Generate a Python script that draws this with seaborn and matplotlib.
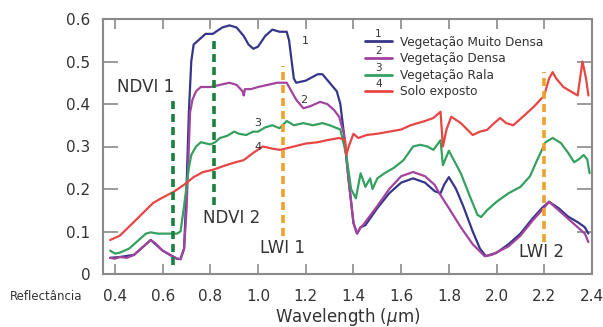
import numpy as np
import pandas as pd
import matplotlib
matplotlib.use("Agg")
import matplotlib.pyplot as plt
import matplotlib.transforms as mtransforms
from matplotlib.lines import Line2D
import seaborn as sns

# ---------------- data ----------------
wl_muito_densa = [0.38, 0.42, 0.48, 0.55, 0.60, 0.66, 0.675, 0.69, 0.70, 0.71, 0.72, 0.73, 0.75, 0.78,
                  0.81, 0.85, 0.88, 0.91, 0.94, 0.96, 0.98, 1.00, 1.03, 1.06, 1.09, 1.12, 1.13, 1.15,
                  1.16, 1.20, 1.25, 1.27, 1.30, 1.33, 1.345, 1.36, 1.38, 1.40, 1.415, 1.43, 1.45, 1.50,
                  1.55, 1.60, 1.65, 1.70, 1.74, 1.765, 1.78, 1.80, 1.83, 1.86, 1.90, 1.93, 1.955, 2.00,
                  2.05, 2.10, 2.15, 2.19, 2.22, 2.26, 2.30, 2.34, 2.37, 2.385]
rf_muito_densa = [0.038, 0.040, 0.045, 0.080, 0.055, 0.036, 0.035, 0.06, 0.20, 0.38, 0.50, 0.54, 0.55, 0.565,
                  0.565, 0.58, 0.585, 0.58, 0.56, 0.54, 0.53, 0.535, 0.56, 0.575, 0.57, 0.57, 0.55, 0.46,
                  0.45, 0.455, 0.47, 0.47, 0.45, 0.43, 0.40, 0.33, 0.22, 0.12, 0.095, 0.11, 0.115, 0.155,
                  0.19, 0.215, 0.225, 0.215, 0.195, 0.19, 0.21, 0.228, 0.20, 0.16, 0.10, 0.06, 0.042, 0.05,
                  0.07, 0.095, 0.13, 0.155, 0.17, 0.155, 0.135, 0.122, 0.11, 0.095]

wl_densa = [0.38, 0.40, 0.42, 0.45, 0.48, 0.52, 0.55, 0.57, 0.60, 0.63, 0.66, 0.675, 0.69, 0.70, 0.71,
            0.715, 0.725, 0.74, 0.76, 0.80, 0.84, 0.88, 0.91, 0.935, 0.94, 0.945, 0.97, 1.00, 1.04,
            1.08, 1.12, 1.14, 1.16, 1.19, 1.22, 1.26, 1.29, 1.32, 1.34, 1.36, 1.38, 1.40, 1.415, 1.43,
            1.44, 1.46, 1.50, 1.55, 1.60, 1.65, 1.70, 1.74, 1.76, 1.80, 1.85, 1.90, 1.95, 1.98, 2.05,
            2.10, 2.15, 2.19, 2.22, 2.26, 2.30, 2.34, 2.37, 2.385]
rf_densa = [0.038, 0.036, 0.040, 0.038, 0.045, 0.065, 0.080, 0.072, 0.055, 0.045, 0.036, 0.035, 0.06, 0.15, 0.30,
            0.38, 0.41, 0.43, 0.44, 0.44, 0.445, 0.45, 0.445, 0.43, 0.42, 0.435, 0.435, 0.44, 0.445,
            0.45, 0.45, 0.43, 0.41, 0.39, 0.395, 0.405, 0.40, 0.385, 0.37, 0.33, 0.22, 0.12, 0.095, 0.11,
            0.115, 0.13, 0.16, 0.20, 0.23, 0.24, 0.23, 0.21, 0.19, 0.155, 0.11, 0.07, 0.042, 0.045, 0.065,
            0.09, 0.125, 0.15, 0.17, 0.15, 0.13, 0.11, 0.095, 0.075]

wl_rala = [0.38, 0.40, 0.42, 0.46, 0.50, 0.53, 0.55, 0.58, 0.62, 0.66, 0.675, 0.69, 0.71, 0.72, 0.74,
           0.76, 0.80, 0.82, 0.84, 0.87, 0.90, 0.92, 0.95, 0.98, 1.00, 1.03, 1.06, 1.09, 1.12, 1.15,
           1.19, 1.23, 1.27, 1.30, 1.345, 1.37, 1.39, 1.41, 1.43, 1.45, 1.47, 1.48, 1.50, 1.53, 1.57,
           1.61, 1.65, 1.68, 1.71, 1.735, 1.765, 1.775, 1.80, 1.85, 1.89, 1.92, 1.935, 1.96, 2.00, 2.05,
           2.10, 2.14, 2.17, 2.205, 2.235, 2.27, 2.30, 2.325, 2.345, 2.365, 2.38, 2.39]
rf_rala = [0.055, 0.048, 0.050, 0.060, 0.080, 0.095, 0.098, 0.095, 0.095, 0.095, 0.10, 0.16, 0.25, 0.28, 0.30,
           0.31, 0.305, 0.31, 0.32, 0.325, 0.335, 0.33, 0.327, 0.335, 0.335, 0.345, 0.35, 0.343, 0.36, 0.35,
           0.355, 0.35, 0.355, 0.35, 0.34, 0.28, 0.20, 0.178, 0.237, 0.205, 0.225, 0.20, 0.225, 0.237, 0.25,
           0.268, 0.30, 0.304, 0.30, 0.292, 0.315, 0.256, 0.29, 0.237, 0.18, 0.139, 0.134, 0.15, 0.17, 0.19,
           0.205, 0.23, 0.268, 0.31, 0.32, 0.308, 0.285, 0.263, 0.27, 0.28, 0.27, 0.237]

wl_solo = [0.38, 0.42, 0.475, 0.52, 0.56, 0.60, 0.645, 0.69, 0.73, 0.77, 0.81, 0.86, 0.90, 0.94, 0.98,
           1.02, 1.06, 1.093, 1.15, 1.20, 1.25, 1.29, 1.34, 1.365, 1.37, 1.38, 1.40, 1.42, 1.455, 1.50,
           1.54, 1.60, 1.64, 1.70, 1.735, 1.765, 1.775, 1.79, 1.81, 1.85, 1.90, 1.93, 1.96, 1.99, 2.015,
           2.04, 2.07, 2.11, 2.155, 2.20, 2.22, 2.235, 2.25, 2.28, 2.31, 2.34, 2.36, 2.375, 2.385]
rf_solo = [0.08, 0.09, 0.12, 0.145, 0.167, 0.18, 0.193, 0.21, 0.228, 0.24, 0.245, 0.255, 0.262, 0.268, 0.285,
           0.30, 0.295, 0.292, 0.30, 0.307, 0.31, 0.315, 0.32, 0.315, 0.28, 0.30, 0.33, 0.32, 0.327, 0.33,
           0.334, 0.34, 0.35, 0.36, 0.367, 0.382, 0.30, 0.34, 0.37, 0.355, 0.327, 0.335, 0.339, 0.355, 0.367,
           0.355, 0.35, 0.37, 0.393, 0.42, 0.46, 0.475, 0.46, 0.44, 0.43, 0.42, 0.50, 0.46, 0.42]

series_names = ["Vegetação Muito Densa", "Vegetação Densa", "Vegetação Rala", "Solo exposto"]
series_nums = ["1", "2", "3", "4"]
series_colors = ["#35368a", "#a2449e", "#35a060", "#e84545"]

# index lines
idx_names = ["NDVI 1", "NDVI 2", "LWI 1", "LWI 2"]
idx_x = [0.644, 0.816, 1.105, 2.20]
idx_ymin = [0.022, 0.162, 0.09, 0.075]
idx_ymax = [0.418, 0.557, 0.49, 0.475]
idx_colors = ["#1b7f3e", "#1b7f3e", "#f0a02c", "#f0a02c"]
idx_label_x = [0.41, 0.77, 1.01, 2.093]
idx_label_y = [0.44, 0.132, 0.061, 0.052]

curve_num_x = [1.2, 1.19, 1.0, 1.0]
curve_num_y = [0.548, 0.41, 0.355, 0.30]

xticks = [0.4, 0.6, 0.8, 1.0, 1.2, 1.4, 1.6, 1.8, 2.0, 2.2, 2.4]
yticks = [0, 0.1, 0.2, 0.3, 0.4, 0.5, 0.6]
ytick_labels = ["0", "0.1", "0.2", "0.3", "0.4", "0.5", "0.6"]

# ---------------- build frame ----------------
frames = []
for name, wl, rf in [(series_names[0], wl_muito_densa, rf_muito_densa),
                     (series_names[1], wl_densa, rf_densa),
                     (series_names[2], wl_rala, rf_rala),
                     (series_names[3], wl_solo, rf_solo)]:
    frames.append(pd.DataFrame({"wl": wl, "rf": rf, "tipo": name}))
df = pd.concat(frames, ignore_index=True)

sns.set_style("ticks")
plt.rcParams["font.family"] = ["DejaVu Sans"]

fig = plt.figure(figsize=(6.03, 3.27), dpi=100)
ax = fig.add_axes([103 / 603, 53 / 327, 489 / 603, 255 / 327])

sns.lineplot(data=df, x="wl", y="rf", hue="tipo", hue_order=series_names,
             palette=series_colors, estimator=None, sort=False, linewidth=1.6,
             legend=False, ax=ax)

for x, y0, y1, c in zip(idx_x, idx_ymin, idx_ymax, idx_colors):
    ax.vlines(x, y0, y1, colors=c, linestyles=(0, (2.2, 1.4)), linewidth=2.6, zorder=3)

for name, x, y in zip(idx_names, idx_label_x, idx_label_y):
    ax.text(x, y, name, ha="left", va="center", fontsize=12, color="#333333")

for n, x, y in zip(series_nums, curve_num_x, curve_num_y):
    ax.text(x, y, n, ha="center", va="center", fontsize=8, color="#333333")

ax.set_xlim(0.35, 2.4)
ax.set_ylim(0, 0.6)
ax.set_xticks(xticks)
ax.set_xticklabels([f"{t:.1f}" for t in xticks])
ax.set_yticks(yticks)
ax.set_yticklabels(ytick_labels)
ax.tick_params(axis="both", direction="in", top=True, right=True,
               colors="#8a8a8a", labelcolor="#333333", labelsize=11, width=1.2)
ax.tick_params(axis="x", length=7, pad=11)
ax.tick_params(axis="y", length=11, pad=9)
for s in ax.spines.values():
    s.set_color("#8a8a8a")
    s.set_linewidth(1.5)
ax.set_xlabel("Wavelength ($\\mu$m)", fontsize=12, color="#333333", labelpad=1)
ax.set_ylabel("")

handles = [Line2D([], [], color=c, linewidth=2) for c in series_colors]
leg = ax.legend(handles, series_names, loc="upper left", bbox_to_anchor=(0.535, 0.935),
                frameon=False, fontsize=8.7, labelspacing=0.3, handlelength=2.3,
                handletextpad=0.6, borderpad=0, borderaxespad=0)
for t in leg.get_texts():
    t.set_color("#333333")

fig.text(10 / 603, 1 - 297 / 327, "Reflectância", fontsize=8.5, color="#333333",
         ha="left", va="center")

fig.canvas.draw()
renderer = fig.canvas.get_renderer()
for n, h in zip(series_nums, leg.legend_handles):
    bb = h.get_window_extent(renderer)
    fig.text((bb.x0 + bb.x1) / 2, bb.y1 + 2, n, fontsize=7.5, color="#333333",
             ha="center", va="bottom", transform=mtransforms.IdentityTransform())

fig.savefig("out.png", dpi=100)
